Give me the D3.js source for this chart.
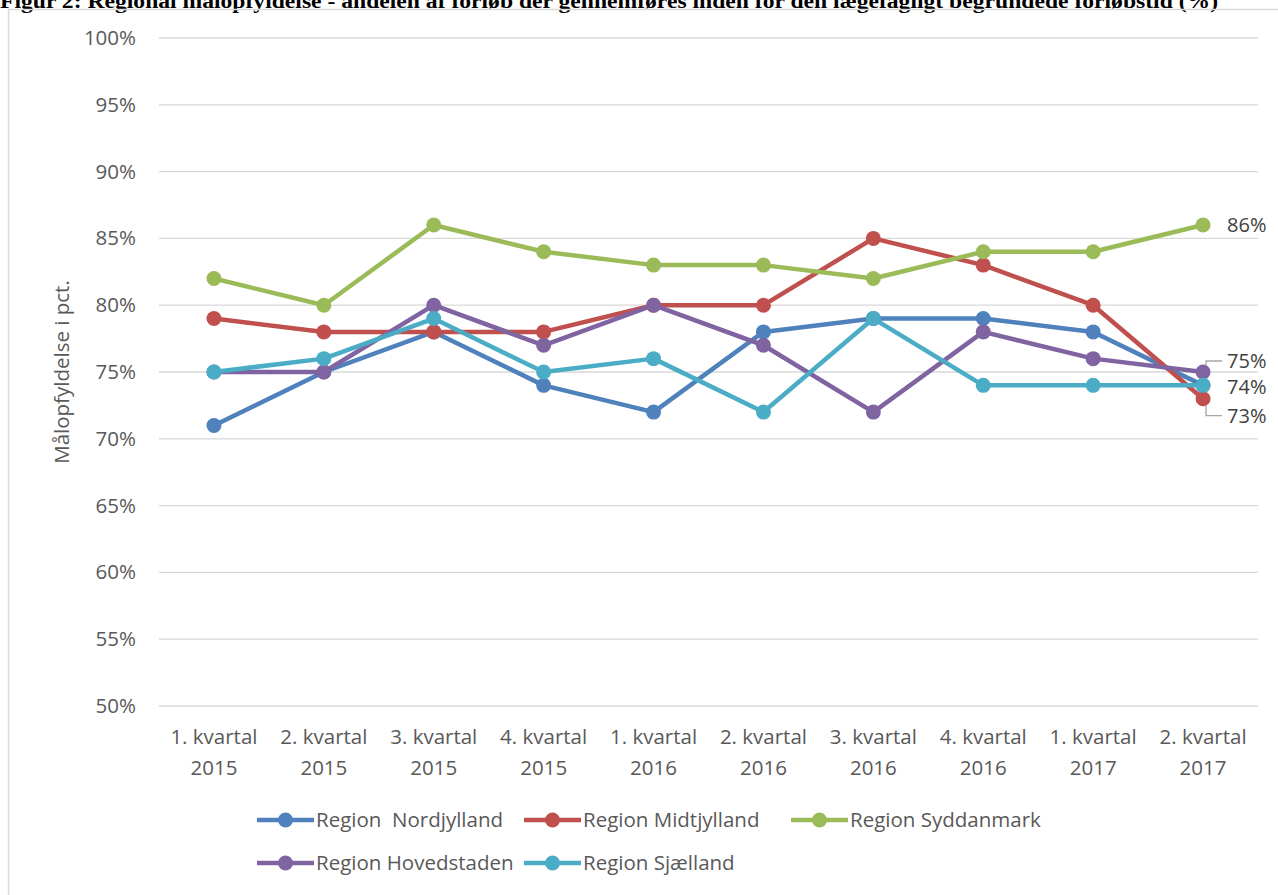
<!DOCTYPE html>
<html>
<head>
<meta charset="utf-8">
<script src="https://cdn.jsdelivr.net/npm/d3@7"></script>
<style>
    body { margin: 0; background: #fff; }
    svg { display: block; }
    .tick text { fill: #595959; }
</style>
</head>
<body>
<div id="chart"></div>
<script>
// Data
const categories = ['1. kvartal|2015', '2. kvartal|2015', '3. kvartal|2015', '4. kvartal|2015',
    '1. kvartal|2016', '2. kvartal|2016', '3. kvartal|2016', '4. kvartal|2016',
    '1. kvartal|2017', '2. kvartal|2017'];
const seriesNames = ['Region  Nordjylland', 'Region Midtjylland', 'Region Syddanmark', 'Region Hovedstaden', 'Region Sjælland'];
const nordjylland = [71, 75, 78, 74, 72, 78, 79, 79, 78, 74];
const midtjylland = [79, 78, 78, 78, 80, 80, 85, 83, 80, 73];
const syddanmark = [82, 80, 86, 84, 83, 83, 82, 84, 84, 86];
const hovedstaden = [75, 75, 80, 77, 80, 77, 72, 78, 76, 75];
const sjaelland = [75, 76, 79, 75, 76, 72, 79, 74, 74, 74];
const yTicks = [50, 55, 60, 65, 70, 75, 80, 85, 90, 95, 100];
const colors = ['#4F81BD', '#C0504D', '#9BBB59', '#8064A2', '#4BACC6'];

const series = [nordjylland, midtjylland, syddanmark, hovedstaden, sjaelland]
    .map((values, i) => ({ name: seriesNames[i], values, color: colors[i] }));

const W = 1278, H = 895;
const font = 'Open Sans, sans-serif';
const svg = d3.select('#chart').append('svg')
    .attr('width', W)
    .attr('height', H);

// Title (cut off at the top like the source)
svg.append('text')
    .attr('x', 0)
    .attr('y', 8)
    .attr('font-family', 'Liberation Serif, serif')
    .attr('font-weight', 'bold')
    .attr('font-size', 20)
    .attr('textLength', 1218)
    .attr('lengthAdjust', 'spacingAndGlyphs')
    .attr('fill', '#000')
    .text('Figur 2: Regional målopfyldelse - andelen af forløb der gennemføres inden for den lægefagligt begrundede forløbstid (%)');

// Chart frame
svg.append('rect')
    .attr('x', 8.5)
    .attr('y', 9.5)
    .attr('width', W + 10)
    .attr('height', H + 10)
    .attr('fill', 'none')
    .attr('stroke', '#d9d9d9')
    .attr('stroke-width', 1.5);

const margin = { top: 38, left: 159, right: 20, bottom: 189 };
const width = W - margin.left - margin.right;
const height = H - margin.top - margin.bottom;

const g = svg.append('g')
    .attr('transform', `translate(${margin.left},${margin.top})`);

const x = d3.scaleBand()
    .domain(categories)
    .range([0, width]);

const y = d3.scaleLinear()
    .domain([50, 100])
    .range([height, 0]);

// Gridlines
g.append('g')
    .selectAll('line')
    .data(yTicks)
    .enter()
    .append('line')
    .attr('x1', 0)
    .attr('x2', width)
    .attr('y1', d => y(d))
    .attr('y2', d => y(d))
    .attr('stroke', '#d9d9d9')
    .attr('stroke-width', 1.3);

// Y axis
const yAxis = g.append('g')
    .call(d3.axisLeft(y).tickValues(yTicks).tickFormat(d => d + '%').tickSize(0).tickPadding(23));
yAxis.select('.domain').remove();
yAxis.selectAll('text')
    .attr('font-family', font)
    .attr('font-size', 20.5);

// X axis
const xAxis = g.append('g')
    .attr('transform', `translate(0,${height})`)
    .call(d3.axisBottom(x).tickSize(0).tickFormat(''));
xAxis.select('.domain').remove();
xAxis.selectAll('.tick').each(function(d) {
    const parts = d.split('|');
    const t = d3.select(this).append('text')
        .attr('fill', '#595959')
        .attr('font-family', font)
        .attr('font-size', 20.5)
        .attr('text-anchor', 'middle');
    t.append('tspan').attr('x', 0).attr('y', 38).text(parts[0]);
    t.append('tspan').attr('x', 0).attr('y', 69).text(parts[1]);
});

// Y axis title
svg.append('text')
    .attr('transform', `translate(69,${margin.top + y(75)}) rotate(-90)`)
    .attr('text-anchor', 'middle')
    .attr('font-family', font)
    .attr('font-size', 20.5)
    .attr('fill', '#595959')
    .text('Målopfyldelse i pct.');

const cx = (d, i) => x(categories[i]) + x.bandwidth() / 2;
const line = d3.line()
    .x(cx)
    .y(d => y(d));

// Lines and markers
series.forEach(s => {
    g.append('path')
        .datum(s.values)
        .attr('fill', 'none')
        .attr('stroke', s.color)
        .attr('stroke-width', 4.5)
        .attr('stroke-linejoin', 'round')
        .attr('d', line);
    g.selectAll(null)
        .data(s.values)
        .enter()
        .append('circle')
        .attr('cx', cx)
        .attr('cy', d => y(d))
        .attr('r', 7.5)
        .attr('fill', s.color);
});

// End labels
const last = categories.length - 1;
const lx = cx(null, last);
const endLabels = [
    { value: syddanmark[last], dy: 0, leader: false },
    { value: hovedstaden[last], dy: -11, leader: true },
    { value: sjaelland[last], dy: 1.5, leader: false },
    { value: midtjylland[last], dy: 17, leader: true }
];
endLabels.forEach(l => {
    const ly = y(l.value) + l.dy;
    g.append('text')
        .attr('x', lx + 24)
        .attr('y', ly)
        .attr('dy', '0.35em')
        .attr('font-family', font)
        .attr('font-size', 20)
        .attr('fill', '#404040')
        .text(l.value + '%');
    if (l.leader) {
        const py = y(l.value);
        const sign = l.dy < 0 ? -1 : 1;
        g.append('path')
            .attr('d', `M${lx + 3},${py + sign * 7} L${lx + 3},${ly} L${lx + 19},${ly}`)
            .attr('fill', 'none')
            .attr('stroke', '#a6a6a6')
            .attr('stroke-width', 1.3);
    }
});

// Legend
const legendPos = [[257, 820], [524, 820], [791, 820], [257, 863], [524, 863]];
series.forEach((s, i) => {
    const [lx0, ly0] = legendPos[i];
    const item = svg.append('g').attr('transform', `translate(${lx0},${ly0})`);
    item.append('line')
        .attr('x1', 0).attr('x2', 57)
        .attr('stroke', s.color)
        .attr('stroke-width', 4.5);
    item.append('circle')
        .attr('cx', 28.5)
        .attr('r', 7.5)
        .attr('fill', s.color);
    item.append('text')
        .attr('x', 59)
        .attr('dy', '0.35em')
        .attr('font-family', font)
        .attr('font-size', 20.5)
        .attr('fill', '#595959')
        .attr('xml:space', 'preserve')
        .style('white-space', 'pre')
        .text(s.name);
});
</script>
</body>
</html>
